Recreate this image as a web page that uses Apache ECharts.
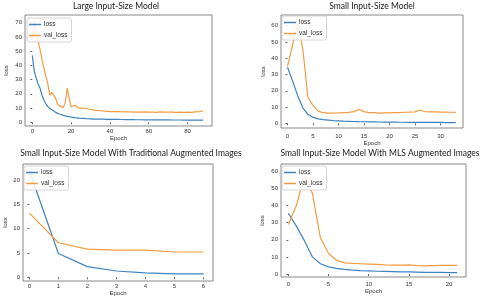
<!DOCTYPE html>
<html><head><meta charset="utf-8">
<script src="https://cdn.jsdelivr.net/npm/echarts@6/dist/echarts.min.js"></script>
<style>html,body{margin:0;padding:0;background:#fff}#c{width:480px;height:298px}</style>
</head><body><div id="c"></div>
<script>
// ---- Data ----
const titles = ["Large Input-Size Model", "Small Input-Size Model",
  "Small Input-Size Model With Traditional Augmented Images", "Small Input-Size Model With MLS Augmented Images"];
const seriesNames = ["loss", "val_loss"];

const largeLoss = [47,36,31,27,24,19,15.5,13,11,10,8.8,7.8,7,6.3,5.8,5.3,4.9,4.5,4.2,4.0,3.7,3.5,3.3,3.1,3.0,2.9,2.8,2.7,2.6,2.5,2.45,
  2.35,2.3,2.3,2.25,2.2,2.2,2.15,2.1,2.1,2.05,
  2.05,2.0,2.0,2.0,1.95,1.95,1.9,1.9,1.9,1.85,
  1.85,1.85,1.8,1.8,1.8,1.8,1.75,1.75,1.75,1.75,
  1.7,1.7,1.7,1.7,1.7,1.65,1.65,1.65,1.65,1.65,
  1.6,1.6,1.6,1.6,1.6,1.6,1.6,1.55,1.55,1.55,
  1.55,1.55,1.55,1.5,1.5,1.5,1.5,1.5];
const largeVal = [58,71,64,57,51,44,38,37,27,19,21,22,17,13,11.5,12,10.5,14,24,17,11,10.5,12,11,10,9.5,10,9,9.5,8.5,9,8.2,8.5,9.2,8.3,8.5,8.0,8.3,7.8,7.6,7.5,
  7.4,7.6,7.3,7.5,7.2,7.4,7.8,7.3,7.2,7.4,
  7.3,7.1,7.3,7.2,7.4,7.1,7.2,7.3,7.1,7.2,
  7.3,7.1,7.2,7.0,7.2,7.3,7.1,7.2,7.0,7.1,
  7.2,7.1,7.3,7.0,7.1,7.2,7.1,7.0,7.2,7.1,
  7.2,7.0,7.1,7.3,7.2,7.4,7.8,8.0];

const smallLoss = [34.5,26,17,9.5,5.5,3.6,2.7,2.2,1.9,1.6,1.45,1.3,1.2,1.1,1.0,0.95,0.9,0.85,0.8,0.75,0.7,0.7,0.65,0.65,0.6,0.6,0.55,0.55,0.5,0.5,0.5,0.45,0.45,0.45];
const smallVal = [35,48,62,46,16,11,7.5,6.5,6.3,6.3,6.4,6.6,6.7,7.2,8.5,7.2,6.6,6.5,6.2,6.4,6.4,6.5,6.6,6.8,6.9,7.0,8.2,7.1,7.0,7.0,6.9,6.9,6.8,6.7];

const tradLoss = [21.9,4.9,2.2,1.3,0.9,0.7,0.7];
const tradVal = [13.2,7.1,5.8,5.6,5.6,5.2,5.2];

const mlsLoss = [35.5,28,19.5,10,6,4.2,3.3,2.7,2.3,2,1.8,1.6,1.5,1.4,1.3,1.2,1.1,1.0,0.9,0.9,0.8,0.8];
const mlsVal = [29,40,57,47,21,12,8,6.5,6.2,6,5.8,5.6,5.3,5.2,5.2,5.3,4.9,4.7,4.9,5,5,5];

const xTicks = [[0,20,40,60,80],[0,5,10,15,20,25,30],[0,1,2,3,4,5,6],[0,5,10,15,20]];
const yTicks = [[0,10,20,30,40,50,60,70],[0,10,20,30,40,50,60],[0,5,10,15,20],[0,10,20,30,40,50,60]];

// ---- Layout ----
const grids = [
  {left:25, top:15, width:187, height:111},
  {left:281, top:15, width:182, height:113},
  {left:23, top:164, width:190, height:117},
  {left:281, top:164, width:185, height:113}
];
const xRange = [[-3.76,92.6],[-1.27,34.4],[-0.22,6.33],[-0.91,22.1]];
const yRange = [[-2.6,75.4],[-2.9,66.6],[-0.76,23.3],[-1.75,64.3]];
const xLabelMargin = [2,5,2,4];
const xNameGap = [8,11,9,11];
const yNameGap = [16,15,15,16];
const titlePos = [[116,6],[372,6],[131,153],[380,153]];
const legendPos = [[27,18],[282,16],[24,166],[282,166]];

const BLUE = '#3f83c0', ORANGE = '#f39c42';
const FONT = 'Liberation Sans';

const dataSets = [[largeLoss,largeVal],[smallLoss,smallVal],[tradLoss,tradVal],[mlsLoss,mlsVal]];

const option = {
  animation:false,
  backgroundColor:'#fff',
  grid: grids.map(g => Object.assign({show:true, borderColor:'#888', borderWidth:1, backgroundColor:'#fff'}, g)),
  xAxis: grids.map((g,i)=>({
    type:'value', gridIndex:i, min:xRange[i][0], max:xRange[i][1],
    name:'Epoch', nameLocation:'middle', nameGap:xNameGap[i],
    nameTextStyle:{fontSize:6, color:'#333', fontFamily:FONT},
    axisLine:{show:false}, splitLine:{show:false},
    axisTick:{show:true, length:2, lineStyle:{color:'#666'}, customValues:xTicks[i]},
    axisLabel:{fontSize:6, color:'#333', margin:xLabelMargin[i], fontFamily:FONT, customValues:xTicks[i]}
  })),
  yAxis: grids.map((g,i)=>({
    type:'value', gridIndex:i, min:yRange[i][0], max:yRange[i][1],
    name:'loss', nameLocation:'middle', nameGap:yNameGap[i],
    nameTextStyle:{fontSize:6, color:'#333', fontFamily:FONT},
    axisLine:{show:false}, splitLine:{show:false},
    axisTick:{show:true, length:2, lineStyle:{color:'#666'}, customValues:yTicks[i]},
    axisLabel:{fontSize:6, color:'#333', margin:3, fontFamily:FONT, customValues:yTicks[i]}
  })),
  legend: legendPos.map(p=>({
    left:p[0], top:p[1], orient:'vertical', data:seriesNames,
    icon:'rect', itemWidth:12, itemHeight:1.5, itemGap:4,
    padding:[3,4,3,2], borderColor:'#ccc', borderWidth:0.8, borderRadius:2,
    backgroundColor:'rgba(255,255,255,0.85)',
    textStyle:{fontSize:6.5, color:'#333', fontFamily:FONT, padding:[0,0,0,-2]},
    selectedMode:false
  })),
  series: [],
  graphic: titles.map((t,i)=>({
    type:'text', x:titlePos[i][0], y:titlePos[i][1], z:100,
    style:{text:t, fill:'#1a1a1a', font:'8.5px Lato', textAlign:'center', textVerticalAlign:'middle'}
  }))
};
dataSets.forEach((ds,i)=>{
  ds.forEach((arr,k)=>{
    option.series.push({
      type:'line', name:seriesNames[k], xAxisIndex:i, yAxisIndex:i,
      data:arr.map((v,j)=>[j,v]), showSymbol:false, symbol:'none',
      lineStyle:{width:1.2, color:k?ORANGE:BLUE}, itemStyle:{color:k?ORANGE:BLUE}
    });
  });
});
echarts.init(document.getElementById('c'), null, {renderer:'canvas'}).setOption(option);
</script></body></html>
